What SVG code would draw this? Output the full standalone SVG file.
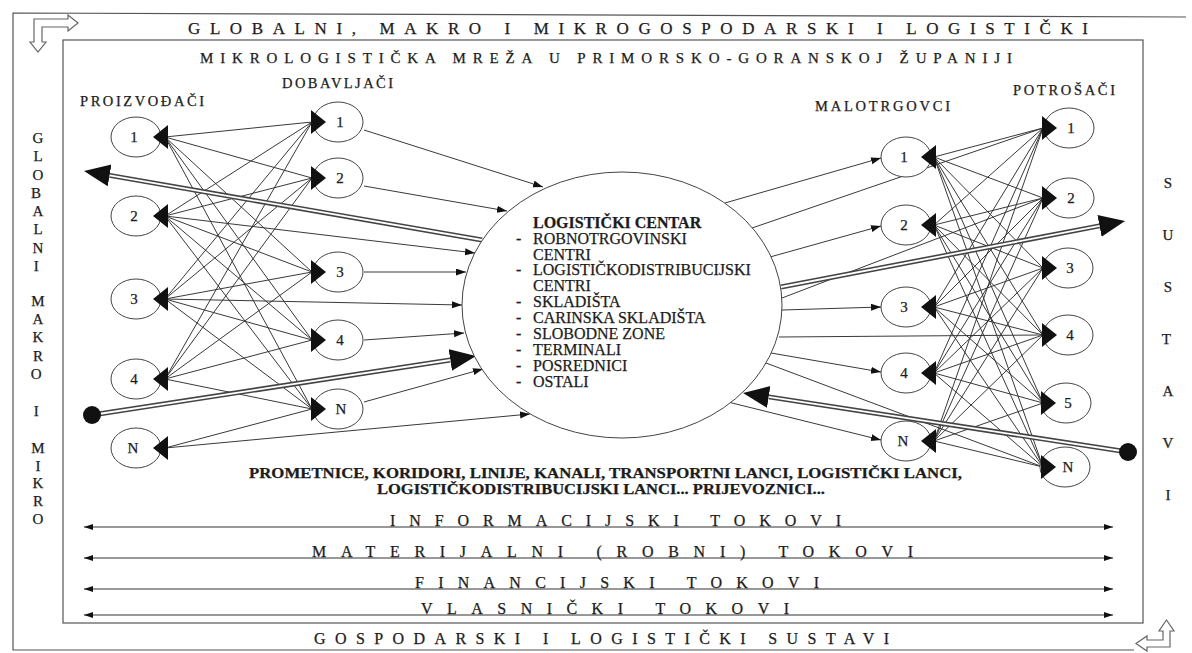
<svg xmlns="http://www.w3.org/2000/svg" xmlns:xlink="http://www.w3.org/1999/xlink" width="1192" height="653" viewBox="0 0 1192 653">
  <style>
    text { font-family: "Liberation Serif", "Times New Roman", serif; fill: #1c1c1c; stroke: #1c1c1c; stroke-width: 0.25px; }
    .frame { fill: none; stroke: #555; stroke-width: 1.2; }
    .hollow { fill: #fff; stroke: #666; stroke-width: 1.2; stroke-linejoin: miter; }
    .title { font-size: 17px; }
    .sub { font-size: 15px; }
    .col { font-size: 15px; text-anchor: middle; }
    .hdr { font-size: 14.5px; }
    .node ellipse { fill: #fff; stroke: #444; stroke-width: 1; }
    .node text { font-size: 15px; text-anchor: middle; }
    .head { fill: #111; stroke: none; }
    .mesh line { stroke: #2e2e2e; stroke-width: 0.95; }
    .feed line { stroke: #2e2e2e; stroke-width: 0.95; marker-end: url(#sm); }
    .plain line { stroke: #2e2e2e; stroke-width: 0.95; }
    .dbl-out { stroke: #444; stroke-width: 5; fill: none; marker-end: url(#big); }
    .dbl-in { stroke: #fff; stroke-width: 1.8; fill: none; }
    .dot { fill: #111; }
    .lc ellipse { fill: #fff; stroke: #444; stroke-width: 1; }
    .lc text { font-size: 16px; }
    .flow line { stroke: #333; stroke-width: 1; marker-start: url(#fs); marker-end: url(#fs); }
    .flow text { font-size: 16px; }
    .route { font-size: 14px; font-weight: bold; }
  </style>
  <defs>
    <marker id="sm" markerUnits="userSpaceOnUse" markerWidth="11" markerHeight="8" refX="10" refY="3.5" orient="auto">
      <path d="M0,0 L10,3.5 L0,7 z" fill="#111"/>
    </marker>
    <marker id="fs" markerUnits="userSpaceOnUse" markerWidth="10" markerHeight="7" refX="9" refY="3" orient="auto-start-reverse">
      <path d="M0,0 L9,3 L0,6 z" fill="#111"/>
    </marker>
    <marker id="big" markerUnits="userSpaceOnUse" markerWidth="28" markerHeight="24" refX="0" refY="11" orient="auto">
      <path d="M0,0 L26,11 L0,22 z" fill="#111"/>
    </marker>
    <!-- node arrowheads, tip at the origin -->
    <path id="hl" d="M0,0 L15,-12 L15,12 z"/>
    <path id="hr" d="M0,0 L-15,-12 L-15,12 z"/>
  </defs>

  <rect width="1192" height="653" fill="#fff"/>

  <!-- outer and inner frames -->
  <polyline class="frame" points="1186,17 13,13 13,650 1134,650"/>
  <rect class="frame" x="63" y="40" width="1080" height="583"/>

  <!-- bent hollow arrows at the frame corners -->
  <polygon class="hollow" points="34,19 68,19 68,15 78,23 68,31 68,27 42,27 42,42 46,42 38,52 30,42 34,42"/>
  <polygon class="hollow" points="1170,647 1147,647 1147,651 1136,643.5 1147,636 1147,640 1163,640 1163,631 1159,631 1166.5,620 1174,631 1170,631"/>

  <!-- titles -->
  <text class="title" x="188" y="34" textLength="900" lengthAdjust="spacing">GLOBALNI, MAKRO I MIKROGOSPODARSKI I LOGISTIČKI</text>
  <text class="sub" x="200" y="63" textLength="812" lengthAdjust="spacing">MIKROLOGISTIČKA MREŽA U PRIMORSKO-GORANSKOJ ŽUPANIJI</text>
  <text class="title" x="314" y="644" textLength="575" lengthAdjust="spacing" style="font-size:16px">GOSPODARSKI I LOGISTIČKI SUSTAVI</text>

  <!-- vertical side labels -->
  <text class="col">
    <tspan x="38" y="143">G</tspan><tspan x="38" y="161">L</tspan><tspan x="38" y="180">O</tspan><tspan x="38" y="198">B</tspan>
    <tspan x="38" y="216">A</tspan><tspan x="38" y="234">L</tspan><tspan x="38" y="253">N</tspan><tspan x="38" y="271">I</tspan>
    <tspan x="38" y="306">M</tspan><tspan x="38" y="324">A</tspan><tspan x="38" y="342">K</tspan><tspan x="38" y="361">R</tspan><tspan x="38" y="379">O</tspan>
    <tspan x="38" y="416">I</tspan>
    <tspan x="38" y="453">M</tspan><tspan x="38" y="471">I</tspan><tspan x="38" y="488">K</tspan><tspan x="38" y="506">R</tspan><tspan x="38" y="524">O</tspan>
  </text>
  <text class="col">
    <tspan x="1168" y="188">S</tspan><tspan x="1168" y="240">U</tspan><tspan x="1168" y="292">S</tspan><tspan x="1168" y="344">T</tspan>
    <tspan x="1168" y="396">A</tspan><tspan x="1168" y="448">V</tspan><tspan x="1168" y="500">I</tspan>
  </text>

  <!-- column headers -->
  <text class="hdr" x="80" y="106" textLength="124" lengthAdjust="spacing">PROIZVOĐAČI</text>
  <text class="hdr" x="282" y="88" textLength="111" lengthAdjust="spacing">DOBAVLJAČI</text>
  <text class="hdr" x="815" y="111" textLength="135" lengthAdjust="spacing">MALOTRGOVCI</text>
  <text class="hdr" x="1013" y="95" textLength="102" lengthAdjust="spacing">POTROŠAČI</text>

  <g id="connectors">
    <!-- producers to suppliers -->
    <g class="mesh" id="mesh-left">
      <line x1="165" y1="137" x2="312" y2="122"/><line x1="165" y1="137" x2="312" y2="178"/><line x1="165" y1="137" x2="312" y2="272"/><line x1="165" y1="137" x2="312" y2="340"/><line x1="165" y1="137" x2="312" y2="409"/>
      <line x1="165" y1="216" x2="312" y2="122"/><line x1="165" y1="216" x2="312" y2="178"/><line x1="165" y1="216" x2="312" y2="272"/><line x1="165" y1="216" x2="312" y2="340"/><line x1="165" y1="216" x2="312" y2="409"/>
      <line x1="165" y1="299" x2="312" y2="122"/><line x1="165" y1="299" x2="312" y2="178"/><line x1="165" y1="299" x2="312" y2="272"/><line x1="165" y1="299" x2="312" y2="340"/><line x1="165" y1="299" x2="312" y2="409"/>
      <line x1="165" y1="379" x2="312" y2="122"/><line x1="165" y1="379" x2="312" y2="178"/><line x1="165" y1="379" x2="312" y2="272"/><line x1="165" y1="379" x2="312" y2="340"/><line x1="165" y1="379" x2="312" y2="409"/>
      <line x1="165" y1="448" x2="312" y2="409"/>
    </g>
    <!-- retailers to consumers -->
    <g class="mesh" id="mesh-right">
      <line x1="934" y1="157" x2="1043" y2="128"/><line x1="934" y1="157" x2="1043" y2="198"/><line x1="934" y1="157" x2="1043" y2="268"/><line x1="934" y1="157" x2="1043" y2="335"/><line x1="934" y1="157" x2="1043" y2="403"/><line x1="934" y1="157" x2="1043" y2="467"/>
      <line x1="934" y1="225" x2="1043" y2="128"/><line x1="934" y1="225" x2="1043" y2="198"/><line x1="934" y1="225" x2="1043" y2="268"/><line x1="934" y1="225" x2="1043" y2="335"/><line x1="934" y1="225" x2="1043" y2="403"/><line x1="934" y1="225" x2="1043" y2="467"/>
      <line x1="934" y1="307" x2="1043" y2="128"/><line x1="934" y1="307" x2="1043" y2="198"/><line x1="934" y1="307" x2="1043" y2="268"/><line x1="934" y1="307" x2="1043" y2="335"/><line x1="934" y1="307" x2="1043" y2="403"/><line x1="934" y1="307" x2="1043" y2="467"/>
      <line x1="934" y1="373" x2="1043" y2="128"/><line x1="934" y1="373" x2="1043" y2="198"/><line x1="934" y1="373" x2="1043" y2="268"/><line x1="934" y1="373" x2="1043" y2="335"/><line x1="934" y1="373" x2="1043" y2="403"/><line x1="934" y1="373" x2="1043" y2="467"/>
      <line x1="934" y1="441" x2="1043" y2="128"/><line x1="934" y1="441" x2="1043" y2="198"/><line x1="934" y1="441" x2="1043" y2="268"/><line x1="934" y1="441" x2="1043" y2="335"/><line x1="934" y1="441" x2="1043" y2="403"/><line x1="934" y1="441" x2="1043" y2="467"/>
    </g>
    <!-- supply into the logistics centre -->
    <g class="feed" id="feeds-in">
      <line x1="364" y1="130" x2="543" y2="187"/>
      <line x1="364" y1="186" x2="507" y2="211"/>
      <line x1="165" y1="216" x2="475" y2="253"/>
      <line x1="364" y1="272" x2="466" y2="272"/>
      <line x1="165" y1="299" x2="462" y2="305"/>
      <line x1="364" y1="340" x2="464" y2="333"/>
      <line x1="364" y1="402" x2="483" y2="369"/>
      <line x1="165" y1="448" x2="530" y2="414"/>
    </g>
    <!-- distribution out of the logistics centre -->
    <g class="feed" id="feeds-out">
      <line x1="725" y1="203" x2="881" y2="158"/>
      <line x1="770" y1="257" x2="881" y2="226"/>
      <line x1="782" y1="310" x2="881" y2="307"/>
      <line x1="771" y1="353" x2="881" y2="372"/>
      <line x1="728" y1="402" x2="881" y2="440"/>
    </g>
    <g class="plain" id="direct-out">
      <line x1="752" y1="228" x2="1043" y2="128"/>
      <line x1="782" y1="298" x2="1043" y2="198"/>
      <line x1="779" y1="337" x2="1043" y2="335"/>
      <line x1="766" y1="363" x2="1043" y2="467"/>
    </g>
    <!-- heavy trunk links -->
    <g id="trunks">
      <line class="dbl-out" x1="482" y1="240" x2="109.6" y2="175.4"/>
      <line class="dbl-in" x1="482" y1="240" x2="109.6" y2="175.4"/>
      <line class="dbl-out" x1="92" y1="415" x2="450.3" y2="360"/>
      <line class="dbl-in" x1="92" y1="415" x2="450.3" y2="360"/>
      <line class="dbl-out" x1="781" y1="287" x2="1099.5" y2="225.9"/>
      <line class="dbl-in" x1="781" y1="287" x2="1099.5" y2="225.9"/>
      <line class="dbl-out" x1="1128" y1="452" x2="768.7" y2="396.9"/>
      <line class="dbl-in" x1="1128" y1="452" x2="768.7" y2="396.9"/>
      <circle class="dot" cx="92" cy="415" r="9"/>
      <circle class="dot" cx="1128" cy="452" r="9"/>
    </g>
    <!-- flows along the whole chain -->
    <g class="flow" id="flows">
      <line x1="84" y1="527" x2="1113" y2="527"/>
      <line x1="84" y1="558" x2="1113" y2="558"/>
      <line x1="84" y1="589" x2="1113" y2="589"/>
      <line x1="84" y1="615" x2="1113" y2="615"/>
      <text x="390" y="526" textLength="451" lengthAdjust="spacing">INFORMACIJSKI TOKOVI</text>
      <text x="312" y="557" textLength="601" lengthAdjust="spacing">MATERIJALNI (ROBNI) TOKOVI</text>
      <text x="415" y="588" textLength="404" lengthAdjust="spacing">FINANCIJSKI TOKOVI</text>
      <text x="421" y="614" textLength="368" lengthAdjust="spacing">VLASNIČKI TOKOVI</text>
    </g>
  </g>

  <!-- producers -->
  <g id="p1" class="node"><ellipse cx="136" cy="137" rx="25" ry="20"/><text x="134" y="142">1</text><use xlink:href="#hl" class="head" x="153" y="137"/></g>
  <g id="p2" class="node"><ellipse cx="136" cy="216" rx="25" ry="20"/><text x="134" y="221">2</text><use xlink:href="#hl" class="head" x="153" y="216"/></g>
  <g id="p3" class="node"><ellipse cx="136" cy="299" rx="25" ry="20"/><text x="134" y="304">3</text><use xlink:href="#hl" class="head" x="153" y="299"/></g>
  <g id="p4" class="node"><ellipse cx="136" cy="379" rx="25" ry="20"/><text x="134" y="384">4</text><use xlink:href="#hl" class="head" x="153" y="379"/></g>
  <g id="pn" class="node"><ellipse cx="136" cy="448" rx="25" ry="20"/><text x="133" y="453">N</text><use xlink:href="#hl" class="head" x="153" y="448"/></g>

  <!-- suppliers -->
  <g id="s1" class="node"><ellipse cx="338" cy="122" rx="25" ry="20"/><text x="340" y="127">1</text><use xlink:href="#hr" class="head" x="326" y="122"/></g>
  <g id="s2" class="node"><ellipse cx="338" cy="178" rx="25" ry="20"/><text x="340" y="183">2</text><use xlink:href="#hr" class="head" x="326" y="178"/></g>
  <g id="s3" class="node"><ellipse cx="338" cy="272" rx="25" ry="20"/><text x="340" y="277">3</text><use xlink:href="#hr" class="head" x="326" y="272"/></g>
  <g id="s4" class="node"><ellipse cx="338" cy="340" rx="25" ry="20"/><text x="340" y="345">4</text><use xlink:href="#hr" class="head" x="326" y="340"/></g>
  <g id="sn" class="node"><ellipse cx="338" cy="409" rx="25" ry="20"/><text x="341" y="414">N</text><use xlink:href="#hr" class="head" x="326" y="409"/></g>

  <!-- logistics centre -->
  <g id="centre" class="lc">
    <ellipse cx="622" cy="305" rx="160" ry="133"/>
    <text x="533" y="228" font-weight="bold">LOGISTIČKI CENTAR</text>
    <text x="516" y="244">-</text><text x="533" y="244">ROBNOTRGOVINSKI</text>
    <text x="533" y="259.5">CENTRI</text>
    <text x="516" y="275">-</text><text x="533" y="275">LOGISTIČKODISTRIBUCIJSKI</text>
    <text x="533" y="291">CENTRI</text>
    <text x="516" y="307">-</text><text x="533" y="307">SKLADIŠTA</text>
    <text x="516" y="323">-</text><text x="533" y="323">CARINSKA SKLADIŠTA</text>
    <text x="516" y="339">-</text><text x="533" y="339">SLOBODNE ZONE</text>
    <text x="516" y="354.5">-</text><text x="533" y="354.5">TERMINALI</text>
    <text x="516" y="370.5">-</text><text x="533" y="370.5">POSREDNICI</text>
    <text x="516" y="386.5">-</text><text x="533" y="386.5">OSTALI</text>
  </g>

  <!-- retailers -->
  <g id="r1" class="node"><ellipse cx="906" cy="157" rx="25" ry="20"/><text x="904" y="162">1</text><use xlink:href="#hl" class="head" x="921" y="157"/></g>
  <g id="r2" class="node"><ellipse cx="906" cy="225" rx="25" ry="20"/><text x="904" y="230">2</text><use xlink:href="#hl" class="head" x="921" y="225"/></g>
  <g id="r3" class="node"><ellipse cx="906" cy="307" rx="25" ry="20"/><text x="904" y="312">3</text><use xlink:href="#hl" class="head" x="921" y="307"/></g>
  <g id="r4" class="node"><ellipse cx="906" cy="373" rx="25" ry="20"/><text x="904" y="378">4</text><use xlink:href="#hl" class="head" x="921" y="373"/></g>
  <g id="rn" class="node"><ellipse cx="906" cy="441" rx="25" ry="20"/><text x="903" y="446">N</text><use xlink:href="#hl" class="head" x="921" y="441"/></g>

  <!-- consumers -->
  <g id="c1" class="node"><ellipse cx="1069" cy="128" rx="25" ry="20"/><text x="1071" y="133">1</text><use xlink:href="#hr" class="head" x="1057" y="128"/></g>
  <g id="c2" class="node"><ellipse cx="1069" cy="198" rx="25" ry="20"/><text x="1071" y="203">2</text><use xlink:href="#hr" class="head" x="1057" y="198"/></g>
  <g id="c3" class="node"><ellipse cx="1068" cy="268" rx="25" ry="20"/><text x="1070" y="273">3</text><use xlink:href="#hr" class="head" x="1057" y="268"/></g>
  <g id="c4" class="node"><ellipse cx="1068" cy="335" rx="25" ry="20"/><text x="1070" y="340">4</text><use xlink:href="#hr" class="head" x="1057" y="335"/></g>
  <g id="c5" class="node"><ellipse cx="1066" cy="403" rx="25" ry="20"/><text x="1068" y="408">5</text><use xlink:href="#hr" class="head" x="1056" y="403"/></g>
  <g id="cn" class="node"><ellipse cx="1065" cy="467" rx="25" ry="20"/><text x="1068" y="472">N</text><use xlink:href="#hr" class="head" x="1056" y="467"/></g>

  <!-- transport infrastructure note -->
  <text class="route" x="249" y="478" textLength="713" lengthAdjust="spacingAndGlyphs">PROMETNICE, KORIDORI, LINIJE, KANALI, TRANSPORTNI LANCI, LOGISTIČKI LANCI,</text>
  <text class="route" x="377" y="494" textLength="448" lengthAdjust="spacingAndGlyphs">LOGISTIČKODISTRIBUCIJSKI LANCI... PRIJEVOZNICI...</text>
</svg>
